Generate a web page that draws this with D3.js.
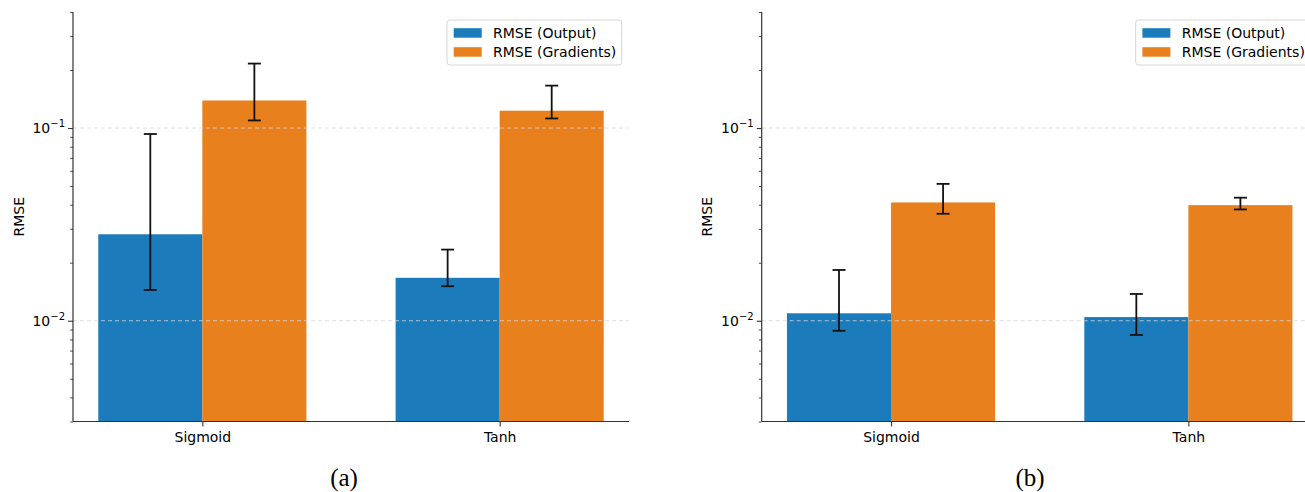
<!DOCTYPE html>
<html>
<head>
<meta charset="utf-8">
<script src="https://cdn.jsdelivr.net/npm/d3@7"></script>
<style>
  body { margin: 0; background: #fff; }
  svg { display: block; font-family: "DejaVu Sans", sans-serif; }
  .tick-label { font-size: 14px; fill: #000; }
  .caption { font-family: "Liberation Serif", "DejaVu Serif", serif; font-size: 25px; }
</style>
</head>
<body>
<svg id="chart"></svg>
<script>
const categories = ["Sigmoid", "Tanh"];
const seriesNames = ["RMSE (Output)", "RMSE (Gradients)"];
const colors = ["#1c7cbb", "#e8801e"];

// panel (a)
const aOutput = [0.0281, 0.0167];
const aOutputLow = [0.01445, 0.0151];
const aOutputHigh = [0.0931, 0.0234];
const aGrad = [0.139, 0.123];
const aGradLow = [0.1095, 0.1121];
const aGradHigh = [0.216, 0.166];

// panel (b)
const bOutput = [0.01093, 0.01045];
const bOutputLow = [0.00887, 0.00844];
const bOutputHigh = [0.01834, 0.01377];
const bGrad = [0.0411, 0.0398];
const bGradLow = [0.0359, 0.0378];
const bGradHigh = [0.0513, 0.0435];

const majorTicks = [0.01, 0.1];
const majorLabels = [["10", "\u22122"], ["10", "\u22121"]];

const W = 1305, H = 492;
const svg = d3.select("#chart").attr("width", W).attr("height", H);

const yTop = 12, yBottom = 421.5, axW = 556;
const barW = 0.35;

const y = d3.scaleLog().domain([0.003, 0.4]).range([yBottom, yTop]);

const panels = [
  { left: 73, caption: "(a)", capX: 344, labelX: 19,
    series: [[aOutput, aOutputLow, aOutputHigh], [aGrad, aGradLow, aGradHigh]] },
  { left: 761.7, caption: "(b)", capX: 1030, labelX: 707,
    series: [[bOutput, bOutputLow, bOutputHigh], [bGrad, bGradLow, bGradHigh]] }
];

panels.forEach(function (p) {
  const x = d3.scaleLinear().domain([-0.435, 1.435]).range([p.left, p.left + axW]);
  const g = svg.append("g");

  // bars
  p.series.forEach(function (s, si) {
    const off = si === 0 ? -barW : 0;
    g.selectAll(".bar" + si)
      .data(categories)
      .enter()
      .append("rect")
      .attr("x", (d, i) => x(i + off))
      .attr("width", x(barW) - x(0))
      .attr("y", (d, i) => y(s[0][i]))
      .attr("height", (d, i) => yBottom - y(s[0][i]))
      .attr("fill", colors[si]);
  });

  // grid on major ticks
  g.selectAll(".grid")
    .data(majorTicks)
    .enter()
    .append("line")
    .attr("x1", p.left)
    .attr("x2", p.left + axW)
    .attr("y1", (d) => y(d))
    .attr("y2", (d) => y(d))
    .attr("stroke", "#d4d4d4")
    .attr("stroke-opacity", 0.8)
    .attr("stroke-dasharray", "4,3")
    .attr("stroke-width", 1);

  // error bars
  p.series.forEach(function (s, si) {
    const off = si === 0 ? -barW / 2 : barW / 2;
    categories.forEach(function (c, i) {
      const cx = x(i + off);
      const eg = g.append("g").attr("stroke", "#111").attr("stroke-width", 1.8);
      eg.append("line").attr("x1", cx).attr("x2", cx)
        .attr("y1", y(s[1][i])).attr("y2", y(s[2][i]));
      [s[1][i], s[2][i]].forEach(function (v) {
        eg.append("line").attr("x1", cx - 6.5).attr("x2", cx + 6.5)
          .attr("y1", y(v)).attr("y2", y(v));
      });
    });
  });

  // y axis
  const yAxis = g.append("g")
    .attr("transform", "translate(" + p.left + ",0)")
    .call(d3.axisLeft(y).tickValues(y.ticks().filter((d) => majorTicks.indexOf(d) < 0))
      .tickSize(2.8).tickFormat(""));
  yAxis.select(".domain").remove();
  yAxis.selectAll("line").attr("stroke", "#333").attr("stroke-width", 0.9);

  const yMajor = g.append("g")
    .attr("transform", "translate(" + p.left + ",0)")
    .call(d3.axisLeft(y).tickValues(majorTicks).tickSize(4.9).tickFormat(""));
  yMajor.select(".domain").remove();
  yMajor.selectAll("line").attr("stroke", "#333").attr("stroke-width", 1.1);

  majorTicks.forEach(function (t, i) {
    const txt = g.append("text")
      .attr("class", "tick-label")
      .attr("x", p.left - 8)
      .attr("y", y(t) + 5)
      .attr("text-anchor", "end");
    txt.append("tspan").text(majorLabels[i][0]);
    txt.append("tspan").attr("dy", -6).style("font-size", "10px").text(majorLabels[i][1]);
  });

  g.append("line")
    .attr("x1", p.left).attr("x2", p.left)
    .attr("y1", yTop).attr("y2", yBottom)
    .attr("stroke", "#333").attr("stroke-width", 1.2);

  // x axis
  const xAxis = g.append("g")
    .attr("transform", "translate(0," + yBottom + ")")
    .call(d3.axisBottom(x).tickValues([0, 1]).tickSize(4.9)
      .tickFormat((d) => categories[d]).tickPadding(5.5));
  xAxis.select(".domain").remove();
  xAxis.selectAll("line").attr("stroke", "#333").attr("stroke-width", 1.1);
  xAxis.selectAll("text")
    .attr("class", "tick-label")
    .style("font-size", "14px")
    .style("font-family", "DejaVu Sans, sans-serif")
    .attr("fill", "#000");

  g.append("line")
    .attr("x1", p.left).attr("x2", p.left + axW)
    .attr("y1", yBottom).attr("y2", yBottom)
    .attr("stroke", "#333").attr("stroke-width", 1.2);

  // y label
  g.append("text")
    .attr("transform", "translate(" + p.labelX + "," + (yTop + yBottom) / 2 + ") rotate(-90)")
    .attr("text-anchor", "middle")
    .attr("dy", "0.35em")
    .style("font-size", "14px")
    .text("RMSE");

  // legend
  const boxR = p.left + axW - 7.3, boxW = 174.7;
  const lg = g.append("g").attr("transform", "translate(" + (boxR - boxW) + ",20)");
  lg.append("rect")
    .attr("width", boxW).attr("height", 45)
    .attr("rx", 3)
    .attr("fill", "#fff").attr("fill-opacity", 0.8)
    .attr("stroke", "#d6d6d6");
  seriesNames.forEach(function (name, i) {
    const cy = 12.7 + i * 19;
    lg.append("rect")
      .attr("x", 6.7).attr("y", cy - 4.5)
      .attr("width", 28).attr("height", 9.5)
      .attr("fill", colors[i]);
    lg.append("text")
      .attr("x", 46).attr("y", cy + 5)
      .style("font-size", "14px")
      .text(name);
  });

  // caption
  svg.append("text")
    .attr("class", "caption")
    .attr("x", p.capX)
    .attr("y", 486)
    .attr("text-anchor", "middle")
    .text(p.caption);
});
</script>
</body>
</html>
